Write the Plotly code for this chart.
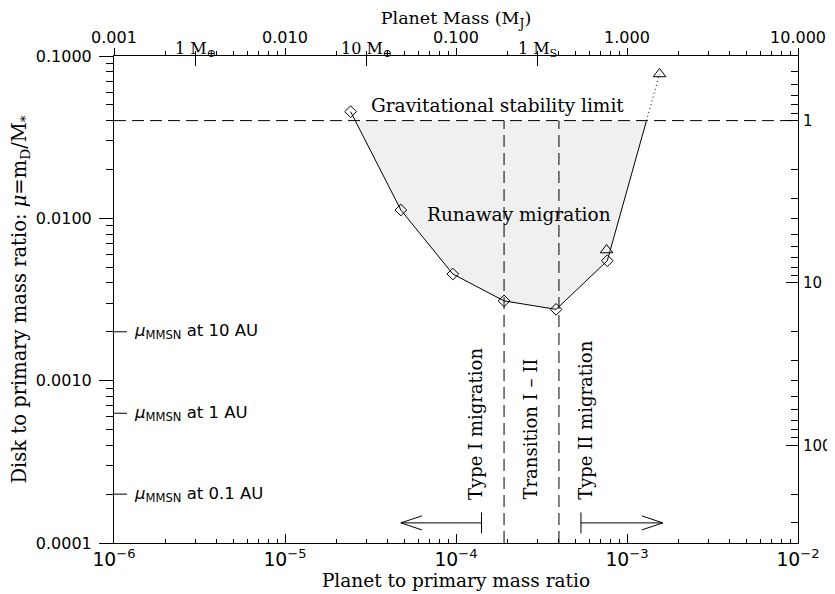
import numpy as np
import plotly.graph_objects as go

# ---------------- data ----------------
q_diamond = [2.42e-5, 4.76e-5, 9.58e-5, 1.91e-4, 3.85e-4, 7.67e-4]
mu_diamond = [0.0454, 0.01125, 0.00454, 0.0031, 0.00275, 0.00548]
q_triangle = [7.6e-4, 1.55e-3]
mu_triangle = [0.00638, 0.0775]
mu_stability = 0.04
q_transition = [1.91e-4, 4.0e-4]
mmsn_labels = ["10 AU", "1 AU", "0.1 AU"]
mu_mmsn = [2.0e-3, 6.3e-4, 2.0e-4]
regime_labels = ["Type I migration", "Transition I \u2013 II", "Type II migration"]
regime_q = [1.31e-4, 2.71e-4, 5.75e-4]
regime_mu_bottom = 1.79e-4
arrow_left_q = [1.41e-4, 4.76e-5]   # bar end, arrow tip
arrow_right_q = [5.38e-4, 1.62e-3]  # bar end, arrow tip
arrow_mu = 1.33e-4
q_range = [1e-6, 1e-2]
mu_range = [1e-4, 1e-1]
top_tick_mj = [0.001, 0.01, 0.1, 1, 10]
top_tick_text = ["0.001", "0.010", "0.100", "1.000", "10.000"]
mj_per_q = 1000.0
ref_mass_mj = [0.003, 0.03, 0.3]
ref_mass_text = ["1 M<sub>\u2295</sub>", "10 M<sub>\u2295</sub>", "1 M<sub>S</sub>"]
right_tick_vals = [1, 10, 100]

SERIF = "DejaVu Serif"
SANS = "DejaVu Sans"

# ------------- derived geometry -------------
lq = np.log10(q_diamond)
lm = np.log10(mu_diamond)
lc = np.log10(mu_stability)
t = (lc - lm[0]) / (lm[1] - lm[0])
q_left = 10 ** (lq[0] + t * (lq[1] - lq[0]))
lqt, lmt = np.log10(q_triangle[1]), np.log10(mu_triangle[1])
t = (lc - lm[-1]) / (lmt - lm[-1])
q_right = 10 ** (lq[-1] + t * (lqt - lq[-1]))

fig = go.Figure()

# shaded runaway region
fig.add_trace(go.Scatter(
    x=[q_left] + q_diamond[1:] + [q_right],
    y=[mu_stability] + mu_diamond[1:] + [mu_stability],
    fill="toself", fillcolor="#f0f0f0", mode="none", hoverinfo="skip"))

# boundary curve
fig.add_trace(go.Scatter(x=q_diamond + [q_right], y=mu_diamond + [mu_stability],
                         mode="lines", line=dict(color="black", width=1)))
fig.add_trace(go.Scatter(x=[q_right, q_triangle[1]], y=[mu_stability, mu_triangle[1]],
                         mode="lines", line=dict(color="black", width=1, dash="1px,3px")))
fig.add_trace(go.Scatter(x=q_diamond, y=mu_diamond, mode="markers",
                         marker=dict(symbol="diamond-open", size=9, color="black",
                                     line=dict(width=1, color="black"))))
fig.add_trace(go.Scatter(x=q_triangle, y=mu_triangle, mode="markers",
                         marker=dict(symbol="triangle-up-open", size=11, color="black",
                                     line=dict(width=1, color="black"))))

# arrows
dxh, dyh = 10 ** (21 / 171), 10 ** (7 / 162.3)
for (qbar, qtip), sgn in [(arrow_left_q, 1), (arrow_right_q, -1)]:
    fig.add_trace(go.Scatter(x=[qbar, qtip], y=[arrow_mu, arrow_mu], mode="lines",
                             line=dict(color="black", width=1)))
    fig.add_trace(go.Scatter(x=[qbar], y=[arrow_mu], mode="markers",
                             marker=dict(symbol="line-ns-open", size=15, color="black",
                                         line=dict(width=1, color="black"))))
    hx = qtip * dxh ** sgn
    fig.add_trace(go.Scatter(x=[hx, qtip, hx], y=[arrow_mu * dyh, arrow_mu, arrow_mu / dyh],
                             mode="lines", line=dict(color="black", width=1)))

# helper traces for the extra axes
fig.add_trace(go.Scatter(x=top_tick_mj, y=[mu_stability] * len(top_tick_mj), xaxis="x2",
                         mode="markers", marker=dict(opacity=0), hoverinfo="skip"))
fig.add_trace(go.Scatter(x=ref_mass_mj, y=[mu_stability] * len(ref_mass_mj), xaxis="x3",
                         mode="markers", marker=dict(opacity=0), hoverinfo="skip"))
fig.add_trace(go.Scatter(x=q_diamond, y=[mu_stability / m for m in mu_diamond], yaxis="y2",
                         mode="markers", marker=dict(opacity=0), hoverinfo="skip"))

shapes = [
    dict(type="line", xref="paper", x0=0, x1=1, yref="y", y0=mu_stability, y1=mu_stability,
         line=dict(color="black", width=1, dash="12px,6px")),
]
for qt in q_transition:
    shapes.append(dict(type="line", xref="x", x0=qt, x1=qt, yref="y", y0=mu_range[0], y1=mu_stability,
                       line=dict(color="black", width=1, dash="12px,6px")))
for m in mu_mmsn:
    shapes.append(dict(type="line", xref="paper", x0=0, x1=0.019, yref="y", y0=m, y1=m,
                       line=dict(color="black", width=1)))

annotations = [
    dict(x=np.log10(1.76e-4), y=np.log10(0.0499), xref="x", yref="y", text="Gravitational stability limit",
         showarrow=False, font=dict(family=SERIF, size=18.5)),
    dict(x=np.log10(2.32e-4), y=np.log10(0.0105), xref="x", yref="y", text="Runaway migration",
         showarrow=False, font=dict(family=SERIF, size=18.5)),
]
for lab, qq in zip(regime_labels, regime_q):
    annotations.append(dict(x=np.log10(qq), y=np.log10(regime_mu_bottom), xref="x", yref="y",
                            text=lab, textangle=-90, xanchor="center", yanchor="bottom",
                            showarrow=False, font=dict(family=SERIF, size=18)))
for lab, m in zip(mmsn_labels, mu_mmsn):
    annotations.append(dict(x=0.027, y=np.log10(m), xref="paper", yref="y", xanchor="left",
                            text="<i>\u03bc</i><sub>MMSN</sub> at " + lab, showarrow=False,
                            font=dict(family=SANS, size=16.5)))

axcommon = dict(showgrid=False, zeroline=False, showline=True, linecolor="black", linewidth=1,
                tickcolor="black", tickwidth=1, automargin=False)

# the page body adds an 8px offset, so the figure is sized to the remaining window
fig.update_layout(
    template="none",
    width=827, height=586,
    margin=dict(l=106, r=37, t=48, b=51),
    plot_bgcolor="white", paper_bgcolor="white", showlegend=False,
    font=dict(family=SERIF, size=17, color="black"),
    xaxis=dict(type="log", range=[np.log10(q_range[0]), np.log10(q_range[1])], dtick=1,
               ticks="inside", ticklen=9, exponentformat="power",
               tickfont=dict(family=SANS, size=15),
               minor=dict(ticks="inside", ticklen=4, dtick="D1", tickcolor="black", showgrid=False),
               title=dict(text="Planet to primary mass ratio", font=dict(family=SERIF, size=18.5), standoff=3),
               **axcommon),
    xaxis2=dict(type="log", overlaying="x", side="top", anchor="y",
                range=[np.log10(q_range[0] * mj_per_q), np.log10(q_range[1] * mj_per_q)],
                tickmode="array", tickvals=top_tick_mj, ticktext=top_tick_text,
                ticks="outside", ticklen=7, ticklabelstandoff=-1,
                tickfont=dict(family=SANS, size=16),
                minor=dict(ticks="outside", ticklen=4, dtick="D1", tickcolor="black", showgrid=False),
                title=dict(text="Planet Mass (M<sub>J</sub>)", font=dict(family=SERIF, size=17.5), standoff=8),
                **axcommon),
    xaxis3=dict(type="log", overlaying="x", side="top", anchor="y",
                range=[np.log10(q_range[0] * mj_per_q), np.log10(q_range[1] * mj_per_q)],
                tickmode="array", tickvals=ref_mass_mj, ticktext=ref_mass_text,
                ticks="inside", ticklen=10, tickcolor="black", showline=False, showgrid=False,
                zeroline=False, automargin=False, ticklabelstandoff=-2,
                tickfont=dict(family=SERIF, size=16)),
    yaxis=dict(type="log", range=[np.log10(mu_range[0]), np.log10(mu_range[1])], dtick=1,
               tickformat=".4f", ticks="outside", ticklen=14, ticklabelstandoff=4,
               tickfont=dict(family=SANS, size=16),
               minor=dict(ticks="outside", ticklen=7, dtick="D1", tickcolor="black", showgrid=False),
               title=dict(text="Disk to primary mass ratio: <i>\u03bc</i>=m<sub>D</sub>/M<sub>*</sub>",
                          font=dict(family=SERIF, size=19.5), standoff=5),
               **axcommon),
    yaxis2=dict(type="log", overlaying="y", side="right", anchor="x",
                range=[np.log10(mu_stability / mu_range[0]), np.log10(mu_stability / mu_range[1])],
                tickmode="array", tickvals=right_tick_vals, ticks="inside", ticklen=12,
                ticklabelstandoff=1, tickfont=dict(family=SANS, size=15),
                minor=dict(ticks="inside", ticklen=7, dtick="D1", tickcolor="black", showgrid=False),
                **axcommon),
    shapes=shapes,
    annotations=annotations,
)

fig.write_html("out.html")
